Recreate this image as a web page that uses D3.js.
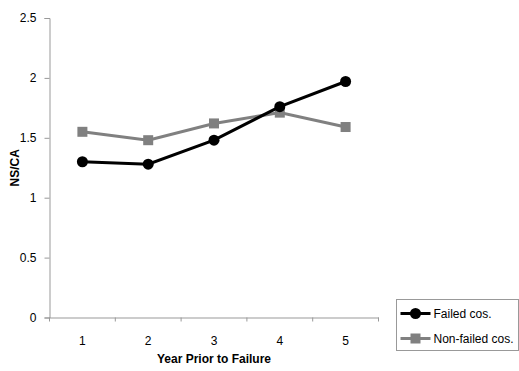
<!DOCTYPE html>
<html>
<head>
<meta charset="utf-8">
<script src="https://cdn.jsdelivr.net/npm/d3@7"></script>
<style>
  body { margin: 0; background: #fff; }
  svg text { font-family: "Liberation Sans", Arial, sans-serif; }
</style>
</head>
<body>
<div id="chart"></div>
<script>
var years = ["1", "2", "3", "4", "5"];
var failed = [1.30, 1.28, 1.48, 1.76, 1.97];
var nonFailed = [1.55, 1.48, 1.62, 1.71, 1.59];
var yTicks = [0, 0.5, 1, 1.5, 2, 2.5];
var seriesNames = ["Failed cos.", "Non-failed cos."];

var width = 519, height = 371;
var margin = {top: 18, left: 49.5, right: 140.5, bottom: 53.5};
var axisColor = "#999";

var svg = d3.select("#chart")
  .append("svg")
    .attr("width", width)
    .attr("height", height);

var x = d3.scaleBand()
    .domain(years)
    .range([margin.left, width - margin.right]);

var y = d3.scaleLinear()
    .domain([0, 2.5])
    .range([height - margin.bottom, margin.top]);

// y axis
var gy = svg.append("g")
    .attr("transform", "translate(" + margin.left + ",0)")
    .call(d3.axisLeft(y).tickValues(yTicks).tickFormat(d3.format("")).tickSize(5).tickPadding(8));
gy.select(".domain").attr("stroke", axisColor);
gy.selectAll(".tick line").attr("stroke", axisColor);
gy.selectAll("text").style("font-size", "12px").attr("fill", "#000");

// x axis
var gx = svg.append("g")
    .attr("transform", "translate(0," + (height - margin.bottom) + ")")
    .call(d3.axisBottom(x).tickSize(0).tickPadding(19));
gx.select(".domain").attr("stroke", axisColor);
gx.selectAll("text").style("font-size", "12px").attr("fill", "#000");

// category boundary ticks
var bounds = [x.range()[0]].concat(years.map(function(d){ return x(d) + x.bandwidth(); }));
gx.selectAll(".bound")
    .data(bounds)
  .enter().append("line")
    .attr("class", "bound")
    .attr("x1", function(d){ return d; })
    .attr("x2", function(d){ return d; })
    .attr("y1", 0)
    .attr("y2", 4)
    .attr("stroke", axisColor);

// titles
svg.append("text")
    .attr("x", (x.range()[0] + x.range()[1]) / 2)
    .attr("y", 363)
    .attr("text-anchor", "middle")
    .style("font-size", "12px")
    .style("font-weight", "bold")
    .text("Year Prior to Failure");

svg.append("text")
    .attr("transform", "translate(19," + y(1.25) + ")rotate(-90)")
    .attr("text-anchor", "middle")
    .style("font-size", "12px")
    .style("font-weight", "bold")
    .text("NS/CA");

var cx = function(d, i){ return x(years[i]) + x.bandwidth() / 2; };
var line = d3.line()
    .x(cx)
    .y(function(d){ return y(d); });

// non-failed (gray squares)
svg.append("path")
    .datum(nonFailed)
    .attr("d", line)
    .attr("fill", "none")
    .attr("stroke", "#808080")
    .attr("stroke-width", 3);
svg.selectAll(".sq")
    .data(nonFailed)
  .enter().append("rect")
    .attr("class", "sq")
    .attr("x", function(d, i){ return cx(d, i) - 5; })
    .attr("y", function(d){ return y(d) - 5; })
    .attr("width", 10)
    .attr("height", 10)
    .attr("fill", "#808080");

// failed (black circles)
svg.append("path")
    .datum(failed)
    .attr("d", line)
    .attr("fill", "none")
    .attr("stroke", "#000")
    .attr("stroke-width", 3);
svg.selectAll(".dot")
    .data(failed)
  .enter().append("circle")
    .attr("class", "dot")
    .attr("cx", cx)
    .attr("cy", function(d){ return y(d); })
    .attr("r", 5.5)
    .attr("fill", "#000");

// legend
var lg = svg.append("g").attr("transform", "translate(396.5,299.5)");
lg.append("rect")
    .attr("width", 122)
    .attr("height", 51)
    .attr("fill", "#fff")
    .attr("stroke", axisColor);

var legendItems = [
  {name: seriesNames[0], color: "#000", shape: "circle"},
  {name: seriesNames[1], color: "#808080", shape: "square"}
];
var li = lg.selectAll(".li")
    .data(legendItems)
  .enter().append("g")
    .attr("class", "li")
    .attr("transform", function(d, i){ return "translate(0," + (14 + i * 25) + ")"; });
li.append("line")
    .attr("x1", 4).attr("x2", 34)
    .attr("stroke", function(d){ return d.color; })
    .attr("stroke-width", 3);
li.filter(function(d){ return d.shape == "circle"; })
  .append("circle")
    .attr("cx", 19).attr("r", 5.5)
    .attr("fill", function(d){ return d.color; });
li.filter(function(d){ return d.shape == "square"; })
  .append("rect")
    .attr("x", 14).attr("y", -5).attr("width", 10).attr("height", 10)
    .attr("fill", function(d){ return d.color; });
li.append("text")
    .attr("x", 37)
    .attr("dy", "0.35em")
    .style("font-size", "12px")
    .text(function(d){ return d.name; });
</script>
</body>
</html>
